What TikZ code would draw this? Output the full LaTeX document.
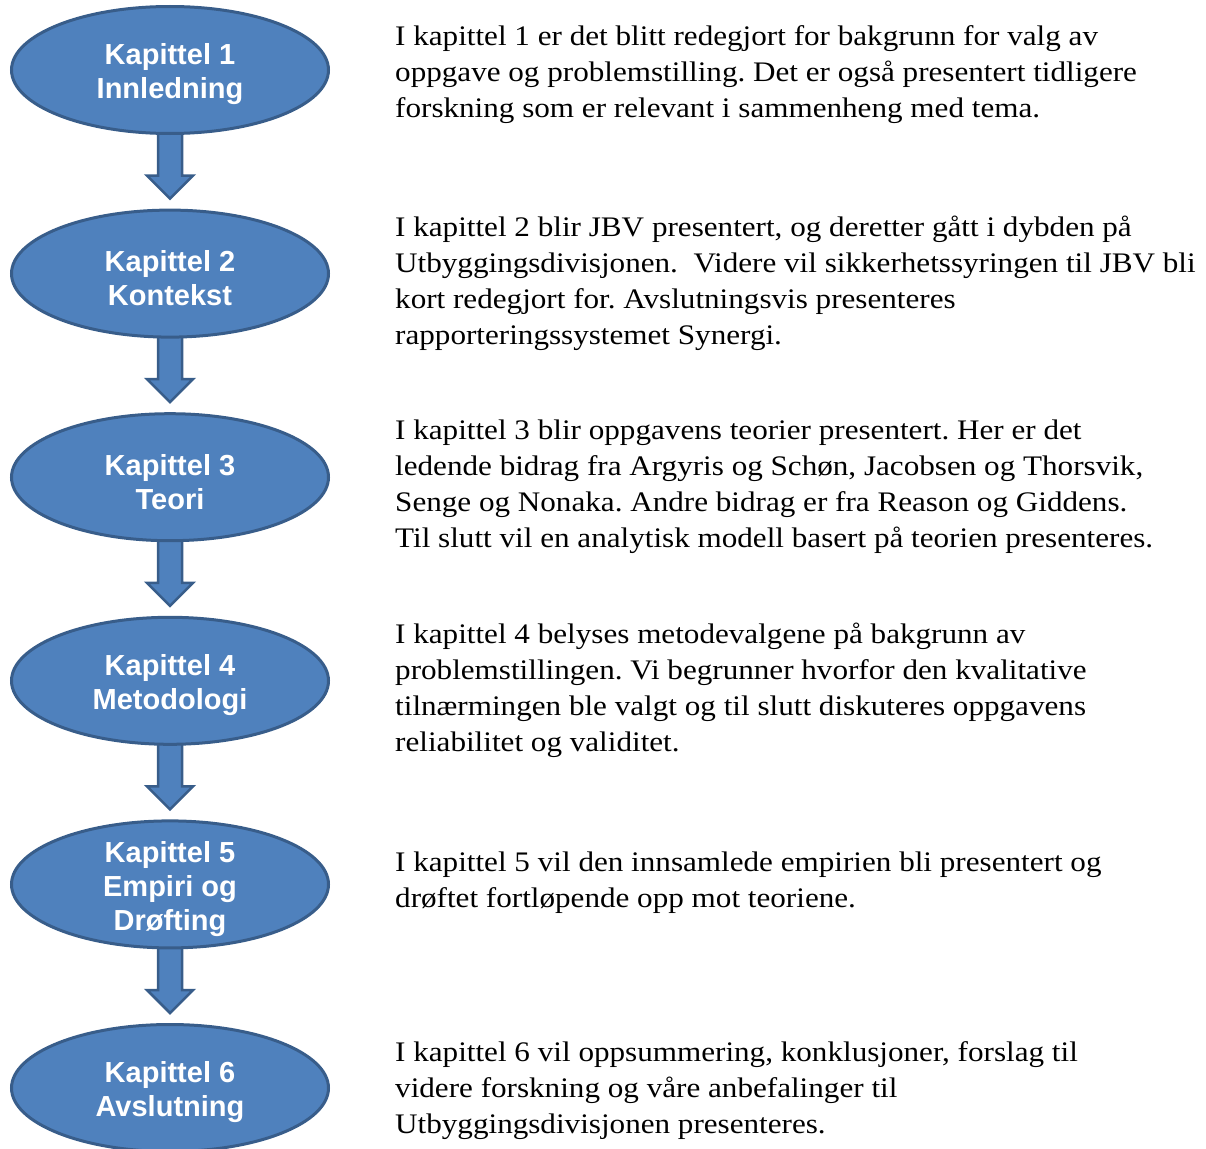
\documentclass[tikz,border=0pt]{standalone}
\usepackage{fontspec}
\setmainfont[FakeStretch=1.1]{Liberation Serif}
\setsansfont{Liberation Sans}
\usetikzlibrary{shapes.geometric,calc,backgrounds}
\definecolor{kfill}{HTML}{4F81BD}
\definecolor{kline}{HTML}{385D8A}
\frenchspacing
\tikzset{
  kap/.style={ellipse, draw=kline, line width=3pt, fill=kfill, minimum width=317pt,
    minimum height=127pt, inner sep=0pt},
  kaptxt/.style={inner sep=0pt, text=white,
    font=\sffamily\bfseries\fontsize{29}{34}\selectfont, align=center},
  desc/.style={anchor=west, align=left, inner sep=0pt,
    font=\fontsize{28.3}{36}\selectfont},
  barrow/.style={draw=kline, line width=2.5pt, fill=kfill, line join=miter}
}
\newcommand\blockarrow[2]{%
  \draw[barrow] ($(#1.south)+(-12,-6)$) -- ($(#1.south)+(12,-6)$)
    -- ($(#2.north)+(12,-33)$) -- ($(#2.north)+(23,-33)$)
    -- ($(#2.north)+(0,-10)$) -- ($(#2.north)+(-23,-33)$)
    -- ($(#2.north)+(-12,-33)$) -- cycle;}
\begin{document}
\begin{tikzpicture}[x=1pt,y=-1pt]
\useasboundingbox (0,0) rectangle (1206,1148);
\node[kap] (k1) at (170,70) {};
\node[kap] (k2) at (170,273.6) {};
\node[kap] (k3) at (170,477.2) {};
\node[kap] (k4) at (170,680.8) {};
\node[kap] (k5) at (170,884.4) {};
\node[kap] (k6) at (170,1088) {};
\node[kaptxt] (k1t) at ($(k1)+(0,4.5)$) {Kapittel 1\\Innledning};
\node[kaptxt] (k2t) at ($(k2)+(0,4.5)$) {Kapittel 2\\Kontekst};
\node[kaptxt] (k3t) at ($(k3)+(0,4.5)$) {Kapittel 3\\Teori};
\node[kaptxt] (k4t) at ($(k4)+(0,4.5)$) {Kapittel 4\\Metodologi};
\node[kaptxt] (k5t) at ($(k5)+(0,4.5)$) {Kapittel 5\\Empiri og\\Drøfting};
\node[kaptxt] (k6t) at ($(k6)+(0,4.5)$) {Kapittel 6\\Avslutning};
\begin{pgfonlayer}{background}
\blockarrow{k1}{k2}
\blockarrow{k2}{k3}
\blockarrow{k3}{k4}
\blockarrow{k4}{k5}
\blockarrow{k5}{k6}
\end{pgfonlayer}
\node[desc] (t1) at (395,75) {I kapittel 1 er det blitt redegjort for bakgrunn for valg av\\oppgave og problemstilling. Det er også presentert tidligere\\forskning som er relevant i sammenheng med tema.};
\node[desc] (t2) at (395,283) {I kapittel 2 blir JBV presentert, og deretter gått i dybden på\\Utbyggingsdivisjonen.\ \ Videre vil sikkerhetssyringen til JBV bli\\kort redegjort for. Avslutningsvis presenteres\\rapporteringssystemet Synergi.};
\node[desc] (t3) at (395,487) {I kapittel 3 blir oppgavens teorier presentert. Her er det\\ledende bidrag fra Argyris og Schøn, Jacobsen og Thorsvik,\\Senge og Nonaka. Andre bidrag er fra Reason og Giddens.\\Til slutt vil en analytisk modell basert på teorien presenteres.};
\node[desc] (t4) at (395,690) {I kapittel 4 belyses metodevalgene på bakgrunn av\\problemstillingen. Vi begrunner hvorfor den kvalitative\\tilnærmingen ble valgt og til slutt diskuteres oppgavens\\reliabilitet og validitet.};
\node[desc] (t5) at (395,883) {I kapittel 5 vil den innsamlede empirien bli presentert og\\drøftet fortløpende opp mot teoriene.};
\node[desc] (t6) at (395,1091) {I kapittel 6 vil oppsummering, konklusjoner, forslag til\\videre forskning og våre anbefalinger til\\Utbyggingsdivisjonen presenteres.};
\end{tikzpicture}
\end{document}
